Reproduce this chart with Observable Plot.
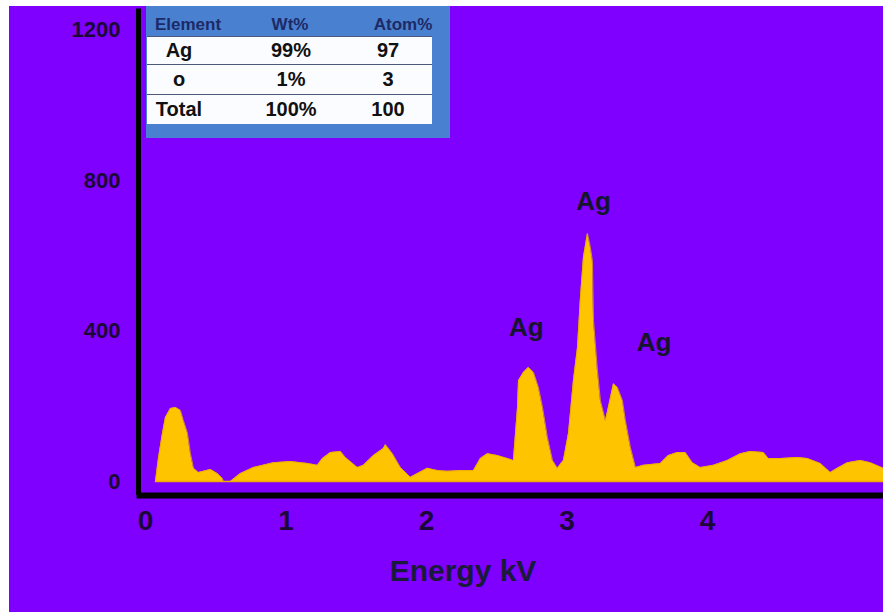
<!DOCTYPE html>
<html>
<head>
<meta charset="utf-8">
<script src="https://cdn.jsdelivr.net/npm/d3@7"></script>
<script src="https://cdn.jsdelivr.net/npm/@observablehq/plot@0.6"></script>
<style>
  html, body { margin: 0; padding: 0; background: #ffffff; }
  #wrap { position: relative; width: 883px; height: 612px; overflow: hidden; font-family: "Liberation Sans", Arial, sans-serif; }
  #chart { position: absolute; left: 9px; top: 6px; }
  #table { position: absolute; left: 146px; top: 6px; width: 304px; height: 132px; background: #4a80d0; }
  .row { position: absolute; left: 1px; width: 285px; background: #fbfcff; border-top: 1.5px solid #4b5a78; box-sizing: border-box; }
  .cell { position: absolute; top: 0; transform: translateX(-50%); font-weight: bold; white-space: nowrap; }
  .hcell { position: absolute; transform: translate(-50%, -50%); font-weight: bold; color: #1c2a66; font-size: 17px; white-space: nowrap; }
</style>
</head>
<body>
<div id="wrap">
  <div id="chart"></div>
  <div id="table"></div>
</div>
<script>
// Spectrum: energy (kV) and counts
const energy = [0.071, 0.093, 0.121, 0.142, 0.178, 0.214, 0.249, 0.270, 0.299, 0.320, 0.342, 0.377, 0.463, 0.512, 0.548, 0.555,
  0.605, 0.676, 0.769, 0.911, 1.032, 1.153, 1.224, 1.260, 1.317, 1.388, 1.423, 1.509, 1.552, 1.623, 1.694, 1.708, 1.758, 1.815,
  1.886, 1.936, 2.007, 2.078, 2.149, 2.242, 2.335, 2.384, 2.434, 2.505, 2.577, 2.619, 2.648, 2.655, 2.690, 2.726, 2.762, 2.797,
  2.826, 2.861, 2.897, 2.932, 2.975, 3.011, 3.046, 3.075, 3.096, 3.117, 3.146, 3.167, 3.181, 3.189, 3.217, 3.238, 3.274, 3.295,
  3.331, 3.359, 3.395, 3.416, 3.452, 3.488, 3.544, 3.665, 3.722, 3.786, 3.843, 3.893, 3.950, 4.043, 4.142, 4.235, 4.306, 4.399,
  4.434, 4.520, 4.641, 4.712, 4.804, 4.875, 4.925, 4.996, 5.089, 5.160, 5.253];
const counts = [0, 64, 128, 170, 194, 197, 189, 162, 128, 74, 35, 24, 32, 21, 8, 0,
  0, 21, 37, 50, 53, 48, 43, 61, 77, 80, 64, 37, 43, 69, 88, 98, 74, 37,
  11, 21, 35, 29, 27, 29, 29, 61, 74, 69, 61, 56, 197, 268, 290, 303, 290, 250,
  197, 117, 56, 35, 56, 128, 268, 356, 489, 595, 659, 622, 587, 428, 295, 215, 162, 197,
  260, 250, 215, 162, 90, 37, 43, 48, 69, 77, 77, 50, 37, 43, 56, 74, 80, 77,
  61, 61, 64, 61, 48, 24, 35, 50, 56, 50, 35];

// Peak labels
const peakNames = ["Ag", "Ag", "Ag"];
const peakEnergy = [2.71, 3.19, 3.62];
const peakCounts = [409, 744, 369];

// Axis ticks and labels
const xTicks = [0, 1, 2, 3, 4];
const yTicks = [0, 400, 800, 1200];
const xLabel = "Energy kV";

// Composition table
const tableHeaders = ["Element", "Wt%", "Atom%"];
const elements = ["Ag", "o", "Total"];
const weightPct = ["99%", "1%", "100%"];
const atomPct = ["97", "3", "100"];

const spectrum = energy.map((e, i) => ({e, c: counts[i]}));
const peaks = peakNames.map((n, i) => ({n, e: peakEnergy[i], c: peakCounts[i]}));

const chart = Plot.plot({
  width: 874,
  height: 606,
  marginLeft: 136,
  marginRight: 0,
  marginTop: 23.5,
  marginBottom: 131,
  x: {domain: [0, 5.253]},
  y: {domain: [0, 1200]},
  style: {background: "#7f00ff", fontFamily: "'Liberation Sans', Arial, sans-serif", color: "#1c0838", overflow: "visible"},
  marks: [
    Plot.areaY(spectrum, {x: "e", y: "c", fill: "#fec400", curve: "linear"}),
    Plot.lineY(spectrum, {x: "e", y: "c", stroke: "#eaa800", strokeWidth: 0.8, curve: "linear"}),
    Plot.ruleY([0], {x1: 0.07, x2: 5.26, stroke: "#f2a900", strokeWidth: 1.5}),
    Plot.ruleX([-0.05], {y1: -37, y2: 1256, stroke: "black", strokeWidth: 5}),
    Plot.ruleY([-37], {x1: -0.06, x2: 5.26, stroke: "black", strokeWidth: 6}),
    Plot.text(peaks, {x: "e", y: "c", text: "n", fontSize: 26, fontWeight: "bold", fill: "#151530", lineAnchor: "middle"}),
    Plot.axisX({ticks: xTicks, tickSize: 0, tickPadding: 29, fontSize: 28, fontWeight: "bold", label: null, tickFormat: "d"}),
    Plot.axisY({ticks: yTicks, tickSize: 0, tickPadding: 25, fontSize: 22, fontWeight: "bold", label: null, tickFormat: "d"}),
    Plot.text([xLabel], {x: 2.26, y: -239, fontSize: 30, fontWeight: "bold", fill: "#1a1a3a", lineAnchor: "middle"})
  ]
});
document.getElementById("chart").appendChild(chart);

// Table (legend-like inset)
const table = document.getElementById("table");
const headerX = [42, 144, 257];
const colX = [32, 144, 241];
tableHeaders.forEach((h, i) => {
  const d = document.createElement("div");
  d.className = "hcell";
  d.style.left = headerX[i] + "px";
  d.style.top = "19px";
  d.textContent = h;
  table.appendChild(d);
});
const rowTops = [30, 58, 88];
const rowHeights = [28, 30, 30];
elements.forEach((el, r) => {
  const row = document.createElement("div");
  row.className = "row";
  row.style.top = rowTops[r] + "px";
  row.style.height = rowHeights[r] + "px";
  [el, weightPct[r], atomPct[r]].forEach((t, c) => {
    const d = document.createElement("div");
    d.className = "cell";
    d.style.left = colX[c] + "px";
    d.style.fontSize = "20px";
    d.style.lineHeight = (rowHeights[r] - 2) + "px";
    d.style.color = "#111";
    d.textContent = t;
    row.appendChild(d);
  });
  table.appendChild(row);
});
</script>
</body>
</html>
